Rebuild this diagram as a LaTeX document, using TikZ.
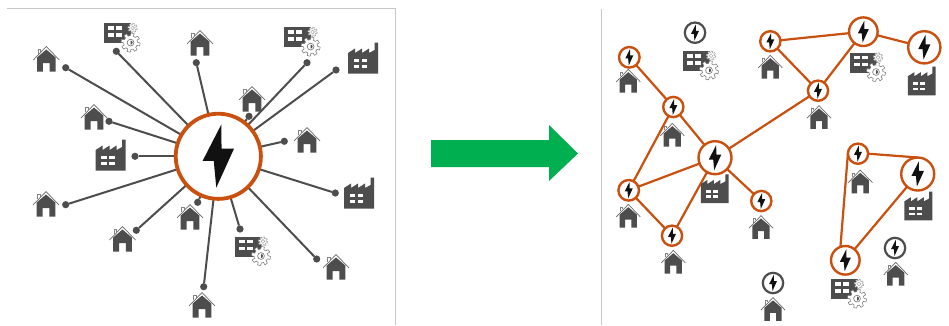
\documentclass[tikz,border=0pt]{standalone}
\definecolor{dk}{HTML}{4D4D4D}
\definecolor{org}{HTML}{C9500F}
\definecolor{grn}{HTML}{00B050}
\definecolor{frm}{HTML}{C8C8C8}
\definecolor{blt}{HTML}{111111}
\tikzset{
 house/.pic={
  \fill[dk] (-9.3,12.5)--(-9.3,-1.5)--(0,-9.5)--(9.3,-1.5)--(9.3,12.5)--(3.4,12.5)--(3.4,4)--(-3.4,4)--(-3.4,12.5)--cycle;
  \draw[dk!85,line width=.7pt] (-13,1)--(0,-12.5)--(13,1);
  \draw[dk!70,line width=.5pt] (-8.5,-5)--(-8.5,-9.5)--(-6,-9.5)--(-6,-7.5);
 },
 factory/.pic={
  \fill[dk] (-15,15.5)--(-15,-5)--(-8,-9.5)--(-8,-5)--(-1,-9.5)--(-1,-5)--(6,-9.5)--(6,-5)--(11.5,-8)--(11.5,-15.5)--(15,-15.5)--(15,15.5)--cycle;
  \foreach \wx in {-9.5,-1.5}\foreach \wy in {1,7}
   \fill[white] (\wx,\wy) rectangle +(5.5,3);
 },
 plant/.pic={
  \fill[dk] (-13.5,-10) rectangle (13.5,10);
  \foreach \wx in {-9.5,-1.5}\foreach \wy in {-7,0}
   \fill[white] (\wx,\wy) rectangle +(6.2,3.7);
  \draw[dk!80,line width=.5pt,fill=white,shift={(13,9.3)}] plot[domain=0:360,samples=121] ({(8.2+1.3*sign(sin(8*\x)))*cos(\x)},{(8.2+1.3*sign(sin(8*\x)))*sin(\x)}) -- cycle;
  \draw[dk!80,line width=.6pt,shift={(13,9.3)}] (0,0) circle (3.4);
  \fill[dk,shift={(13,9.3)}] (0,-2) arc (-90:90:2) -- cycle;
  \draw[gray!80,line width=.4pt,fill=white,shift={(15,-5.3)}] plot[domain=0:360,samples=121] ({(4+.7*sign(sin(8*\x)))*cos(\x)},{(4+.7*sign(sin(8*\x)))*sin(\x)}) -- cycle;
  \draw[gray!80,line width=.4pt,shift={(15,-5.3)}] (0,0) circle (1.9);
 },
 boltshape/.pic={
  \fill[blt,line join=round] (3,-31.5)--(-15.5,4.5)--(-4.5,4.5)--(-2,31)--(15.5,-7.5)--(3.2,-7.5)--cycle;
 },
 dot/.style={circle,fill=dk,inner sep=0,minimum size=7.2pt,outer sep=0},
 spoke/.style={draw=dk,line width=2pt},
 link/.style={draw=org,line width=2.2pt},
 framel/.style={draw=frm,line width=.9pt},
}
% name, x, y, radius, colour, line width
\newcommand{\boltnode}[6]{%
 \pgfmathsetmacro{\bltd}{2*#4-#6}%
 \pgfmathsetmacro{\blts}{#4/44}%
 \node[circle,draw=#5,fill=white,line width=#6pt,inner sep=0,outer sep=0,minimum size=\bltd pt] (#1) at (#2,#3) {};
 \pic[scale=\blts] at (#1) {boltshape};
}
\begin{document}
\begin{tikzpicture}[x=1pt,y=-1pt]
\useasboundingbox (0,0) rectangle (949,325);
\fill[white] (0,0) rectangle (949,325);
% frames
\coordinate (fa) at (7,8.5); \coordinate (fb) at (395,8.5); \coordinate (fc) at (395,325);
\coordinate (fd) at (601.5,8.5); \coordinate (fe) at (601.5,325);
\draw[framel] (fa)--(fb)--(fc);
\draw[framel] (fd)--(fe);
% arrow
\fill[grn] (431,140)--(549,140)--(549,125)--(578,153.5)--(549,181)--(549,167)--(431,167)--cycle;
% LEFT
\node[circle,inner sep=0,outer sep=0,minimum size=85pt] (hubb) at (218.3,156.3) {};
\foreach \n/\x/\y in {a/65.7/67.7,b/116.3/51.3,c/196.3/62.7,d/307/62.7,e/336/70,f/249/116.3,g/284.3/141.3,h/335.3/193,i/316.7/259,j/240/229,k/203.7/286.7,l/197.7/202.3,m/136.3/230.3,n/65.7/204.7,o/135/156.3,p/109/121.3}{
 \node[dot] (\n) at (\x,\y) {};
 \draw[spoke] (\n) -- (hubb);
}
\boltnode{hub}{218.3}{156.3}{44.5}{org}{3.8}
\foreach \x/\y in {46.3/59,94/117,200/43,252/99,307/140,46/204,122.5/239,190/217,336/267,202/305}
 \pic at (\x,\y) {house};
\foreach \x/\y in {110.6/155,363/58,359/193}
 \pic at (\x,\y) {factory};
\foreach \x/\y in {117.6/33.3,297.6/37.3,248/246.7}
 \pic at (\x,\y) {plant};
% RIGHT
\boltnode{n1}{629.3}{57.3}{11.5}{org}{2.4}
\boltnode{n2}{673.3}{107}{11.3}{org}{2.4}
\boltnode{n3}{715}{157.7}{17.7}{org}{2.4}
\boltnode{n4}{628.7}{190.3}{11.5}{org}{2.4}
\boltnode{n5}{672}{235.7}{11.3}{org}{2.4}
\boltnode{n6}{761.3}{201}{11.3}{org}{2.4}
\boltnode{n7}{770.3}{41.3}{11.3}{org}{2.4}
\boltnode{n8}{863.3}{31.7}{15.5}{org}{2.4}
\boltnode{n9}{924.3}{47.3}{17.3}{org}{2.4}
\boltnode{n10}{818}{90.7}{11.3}{org}{2.4}
\boltnode{n11}{858}{153.7}{11.3}{org}{2.4}
\boltnode{n12}{917.7}{174}{17.7}{org}{2.4}
\boltnode{n13}{845.3}{260.3}{15.5}{org}{2.4}
\boltnode{g1}{695}{32.7}{11.3}{dk}{2.2}
\boltnode{g2}{895}{248}{11.3}{dk}{2.2}
\boltnode{g3}{773}{283}{11.3}{dk}{2.2}
\foreach \s/\t in {n1/n2,n2/n3,n2/n4,n3/n4,n3/n5,n4/n5,n3/n6,n3/n10,n7/n8,n7/n10,n8/n10,n8/n9,n12/n13}
 \draw[link] (\s) -- (\t);
\draw[link] (n11.east) -- (n12.north);
\draw[link] (n11.west) -- (n13.110);
\foreach \x/\y in {628.3/81,672.3/135,628.3/216,673.3/262,761/227.3,770.3/67,819/117.3,860.3/181.7,895.7/274,773/309.2}
 \pic[scale=.93] at (\x,\y) {house};
\foreach \x/\y in {714.7/188.8,921.7/81,918.3/206}
 \pic[scale=.93] at (\x,\y) {factory};
\foreach \x/\y in {696/61,863/62.7,844/289.3}
 \pic at (\x,\y) {plant};
\end{tikzpicture}
\end{document}
